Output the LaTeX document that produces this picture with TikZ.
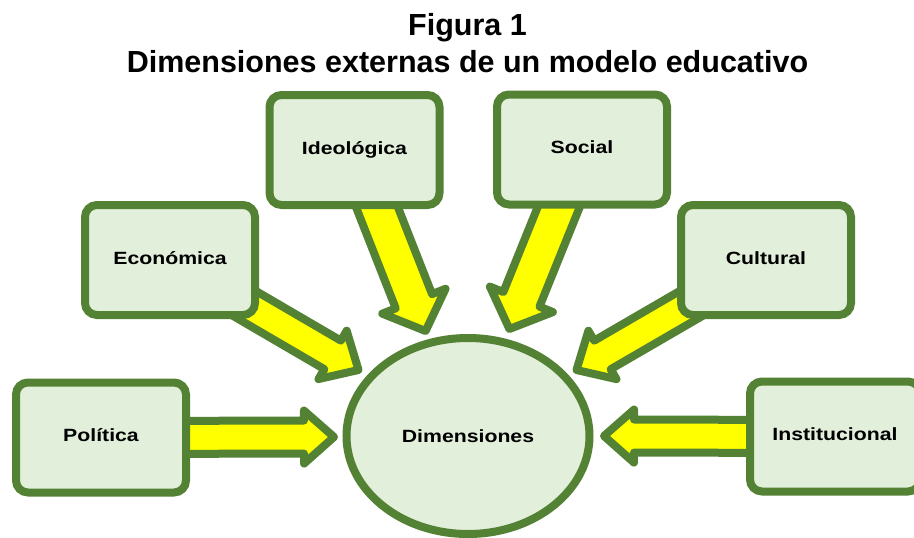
\documentclass[tikz,border=0pt]{standalone}
\usepackage{fontspec}
\setmainfont{Liberation Sans}
\newfontfamily\boxfont[FakeStretch=1.2]{Liberation Sans}
\usetikzlibrary{calc,shapes.geometric,backgrounds}
\definecolor{dgreen}{HTML}{548235}
\definecolor{lgreen}{HTML}{E2EFDA}
\definecolor{ayellow}{HTML}{FFFF00}
\newcommand\blockarr[5]{%
  \path ($(#2)!#5pt!(#1)$) coordinate (H);
  \draw[arrowstyle] ($(#1)!#3pt!90:(#2)$) -- ($(H)!#3pt!90:(#2)$) -- ($(H)!#4pt!90:(#2)$) -- (#2)
    -- ($(H)!#4pt!-90:(#2)$) -- ($(H)!#3pt!-90:(#2)$) -- ($(#1)!#3pt!-90:(#2)$) -- cycle;}
\begin{document}
\begin{tikzpicture}[x=1pt,y=-1pt,
  dimbox/.style={draw=dgreen,fill=lgreen,line width=8pt,rounded corners=12pt,
    minimum width=170pt,minimum height=110pt,inner sep=0pt,
    font=\boxfont\bfseries\fontsize{17.7}{20}\selectfont,text height=12.7pt,text depth=4.7pt},
  centre/.style={ellipse,draw=dgreen,fill=lgreen,line width=8pt,
    minimum width=243pt,minimum height=196pt,inner sep=0pt,
    font=\boxfont\bfseries\fontsize{17.7}{20}\selectfont,text height=12.7pt,text depth=0.7pt},
  arrowstyle/.style={draw=dgreen,fill=ayellow,line width=8pt,line join=round},
  titletext/.style={font=\bfseries\fontsize{30.5}{34}\selectfont,anchor=base,inner sep=0pt}]
\useasboundingbox (0,0) rectangle (914,538);
\node[titletext] (t1) at (467.5,35) {Figura 1};
\node[titletext] (t2) at (467.5,72) {Dimensiones externas de un modelo educativo};
\node[dimbox] (pol) at (101,437.5) {Política};
\node[dimbox] (eco) at (170,260) {Económica};
\node[dimbox] (ide) at (354.5,150) {Ideológica};
\node[dimbox] (soc) at (582,149.5) {Social};
\node[dimbox] (cul) at (766,260) {Cultural};
\node[dimbox] (ins) at (835,436.5) {Institucional};
\node[centre] (dim) at (468,436) {Dimensiones};
\coordinate (tpol) at (334,437);
\coordinate (tins) at (604,436);
\coordinate (teco) at (358.5,370);
\coordinate (tcul) at (576.5,370);
\coordinate (tide) at (425.6,331);
\coordinate (tsoc) at (509.4,329);
\begin{scope}[on background layer]
  \fill[white] (0,0) rectangle (914,538);
  \blockarr{pol}{tpol}{16.5}{26.5}{30}
  \blockarr{ins}{tins}{16.5}{26.5}{30}
  \blockarr{eco}{teco}{16.5}{28}{30}
  \blockarr{cul}{tcul}{16.5}{28}{30}
  \blockarr{ide}{tide}{19.5}{34}{32}
  \blockarr{soc}{tsoc}{19.5}{34}{32}
\end{scope}
\end{tikzpicture}
\end{document}
